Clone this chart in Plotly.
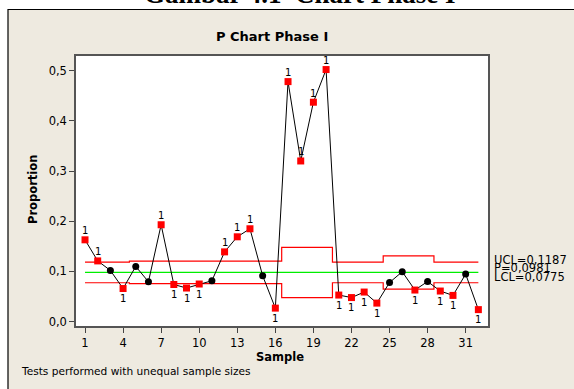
import plotly.graph_objects as go

samples = list(range(1, 33))
proportion = [0.163, 0.121, 0.102, 0.066, 0.110, 0.0795, 0.193, 0.074,
              0.067, 0.075, 0.0815, 0.139, 0.169, 0.185, 0.0915, 0.027,
              0.478, 0.320, 0.437, 0.502, 0.053, 0.048, 0.059, 0.037,
              0.078, 0.0994, 0.063, 0.080, 0.061, 0.0523, 0.0948, 0.024]
center_line = 0.0981
ucl = [0.1187]*4 + [0.1206]*12 + [0.148]*4 + [0.1187]*4 + [0.131]*4 + [0.1187]*4
lcl = [0.0775]*4 + [0.0756]*12 + [0.048]*4 + [0.0775]*4 + [0.065]*4 + [0.0775]*4
tick_vals = [1, 4, 7, 10, 13, 16, 19, 22, 25, 28, 31]
y_ticks = [0.0, 0.1, 0.2, 0.3, 0.4, 0.5]

FONT = "DejaVu Sans, Tahoma, sans-serif"
BEIGE = "#EEEAE0"

out_above = [p > u for p, u in zip(proportion, ucl)]
out_below = [p < l for p, l in zip(proportion, lcl)]
flag = [a or b for a, b in zip(out_above, out_below)]

fig = go.Figure()
fig.add_trace(go.Scatter(x=samples, y=ucl, mode="lines", line=dict(color="#FF0000", width=1.2, shape="hvh"), hoverinfo="skip"))
fig.add_trace(go.Scatter(x=samples, y=lcl, mode="lines", line=dict(color="#FF0000", width=1.2, shape="hvh"), hoverinfo="skip"))
fig.add_trace(go.Scatter(x=[samples[0], samples[-1]], y=[center_line]*2, mode="lines", line=dict(color="#00EE00", width=1.2)))
fig.add_trace(go.Scatter(x=samples, y=proportion, mode="lines", line=dict(color="black", width=1)))
fig.add_trace(go.Scatter(x=[s for s, f in zip(samples, flag) if not f],
                         y=[p for p, f in zip(proportion, flag) if not f],
                         mode="markers", marker=dict(symbol="circle", size=7, color="black")))
fig.add_trace(go.Scatter(x=[s for s, f in zip(samples, flag) if f],
                         y=[p for p, f in zip(proportion, flag) if f],
                         mode="markers", marker=dict(symbol="square", size=7, color="#FF0000")))

W, H = 574, 389
L, R, T, B = 76, 86, 56, 63
pw, ph = W - L - R, H - T - B

def px(x):
    return (x - L) / pw

def py(y):
    return (H - B - y) / ph

shapes = [
    dict(type="rect", xref="paper", yref="paper", x0=px(8), x1=px(600), y0=py(420), y1=py(9.5),
         fillcolor=BEIGE, line=dict(color="black", width=1.2), layer="below"),
    dict(type="rect", xref="paper", yref="paper", x0=0, x1=1, y0=0, y1=1,
         fillcolor="white", line=dict(width=0), layer="below"),
]

annotations = [
    dict(text="<b>Gambar 4.1  Chart Phase I</b>", xref="paper", yref="paper", x=px(300), y=py(11),
         xanchor="center", yanchor="bottom", showarrow=False,
         font=dict(family="Liberation Serif, serif", size=27, color="black")),
    dict(text="<b>P Chart Phase I</b>", xref="paper", yref="paper", x=px(272), y=py(37),
         xanchor="center", yanchor="middle", showarrow=False, font=dict(family=FONT, size=13, color="black")),
    dict(text="<b>Proportion</b>", xref="paper", yref="paper", x=px(33), y=py(190), textangle=-90,
         xanchor="center", yanchor="middle", showarrow=False, font=dict(family=FONT, size=11.5, color="black")),
    dict(text="<b>Sample</b>", xref="paper", yref="paper", x=px(280), y=py(356.5),
         xanchor="center", yanchor="middle", showarrow=False, font=dict(family=FONT, size=11.5, color="black")),
    dict(text="Tests performed with unequal sample sizes", xref="paper", yref="paper", x=px(19), y=py(371),
         xanchor="left", yanchor="middle", showarrow=False, font=dict(family=FONT, size=10.6, color="black")),
    dict(text="UCL=0,1187", xref="paper", yref="paper", x=px(492), y=py(259.5),
         xanchor="left", yanchor="middle", showarrow=False, font=dict(family=FONT, size=11.5, color="black")),
    dict(text="P=0,0981", xref="paper", yref="paper", x=px(492), y=py(268),
         xanchor="left", yanchor="middle", showarrow=False, font=dict(family=FONT, size=11.5, color="black")),
    dict(text="LCL=0,0775", xref="paper", yref="paper", x=px(492), y=py(276.5),
         xanchor="left", yanchor="middle", showarrow=False, font=dict(family=FONT, size=11.5, color="black")),
]

# "1" test-failure labels above / below the flagged points
for s, p, a, b in zip(samples, proportion, out_above, out_below):
    if a or b:
        annotations.append(dict(text="1", x=s, y=p, xref="x", yref="y", showarrow=False,
                                xanchor="center", yanchor="middle", yshift=9 if a else -10,
                                font=dict(family=FONT, size=10, color="black")))

fig.update_layout(
    width=W, height=H, margin=dict(l=L, r=R, t=T, b=B, pad=0),
    paper_bgcolor="white", plot_bgcolor="rgba(0,0,0,0)",
    showlegend=False, separators=",.",
    font=dict(family=FONT, size=11, color="black"),
    shapes=shapes, annotations=annotations,
)
fig.update_xaxes(range=[0.29, 32.76], tickvals=tick_vals, ticks="outside", ticklen=5, tickcolor="#444",
                 showgrid=False, zeroline=False, showline=True, linecolor="#555", linewidth=1.5, mirror=True,
                 tickfont=dict(family=FONT, size=11.5))
fig.update_yaxes(range=[-0.0086, 0.529], tickvals=y_ticks, tickformat=".1f", ticks="outside", ticklen=5,
                 tickcolor="#444", showgrid=False, zeroline=False, showline=True, linecolor="#555",
                 linewidth=1.5, mirror=True, tickfont=dict(family=FONT, size=11.5))

fig.write_html("out.html")
